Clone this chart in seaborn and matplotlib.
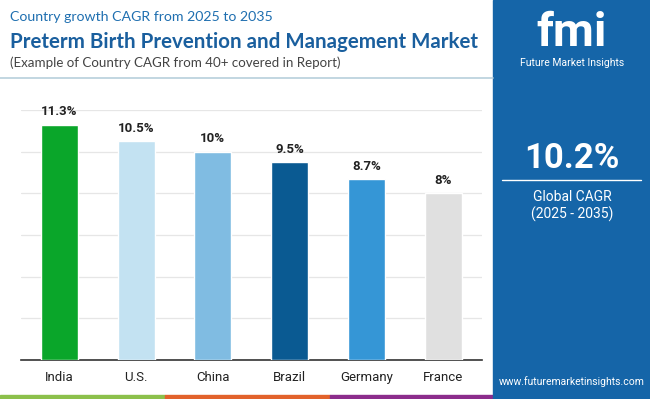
import pandas as pd
import seaborn as sns
import matplotlib.pyplot as plt
from matplotlib.patches import Rectangle

# data
countries = ["India", "U.S.", "China", "Brazil", "Germany", "France"]
cagr = [11.3, 10.5, 10.0, 9.5, 8.7, 8.0]
labels = ["11.3%", "10.5%", "10%", "9.5%", "8.7%", "8%"]
bar_colors = ["#0aa62a", "#c3e2f2", "#80bce2", "#0a5a92", "#3596d6", "#e0e0e0"]

df = pd.DataFrame({"country": countries, "cagr": cagr})

sns.set_style("white")
plt.rcParams['font.family'] = ['Roboto', 'DejaVu Sans']

fig = plt.figure(figsize=(6.5, 3.99), dpi=100)
ax = fig.add_axes([21/650, 1-360/399, (481.5-21)/650, (360-110)/399])

sns.barplot(df, x="country", y="cagr", hue="country", palette=bar_colors,
            saturation=1, width=0.48, legend=False, ax=ax, zorder=3)

for i, (v, t) in enumerate(zip(cagr, labels)):
    ax.text(i, v + 0.3, t, ha='center', va='bottom', fontsize=9.5,
            fontweight='bold', color='#222222')

ax.set_xlim(-0.5, 5.5)
ax.set_ylim(0, 12)
ax.set_yticks(range(0, 13, 2))
ax.yaxis.grid(True, color='#e6e6e6', linewidth=0.9, zorder=0)
ax.set_yticklabels([])
ax.tick_params(axis='y', length=0)
ax.tick_params(axis='x', length=0, labelsize=9.5, colors='#222222', pad=8)
ax.set_xlabel('')
ax.set_ylabel('')
for s in ['top', 'right', 'left']:
    ax.spines[s].set_visible(False)
ax.spines['bottom'].set_color('#333333')
ax.spines['bottom'].set_linewidth(1.2)

# header texts
fig.text(10/650, 1-17/399, "Country growth CAGR from 2025 to 2035", fontsize=10.2,
         color='#1f6fb0', va='center', family=['Lato', 'DejaVu Sans'])
fig.text(10/650, 1-42/399, "Preterm Birth Prevention and Management Market", fontsize=14.8,
         fontweight='bold', color='#1a5f9e', va='center', family=['Lato', 'DejaVu Sans'])
fig.text(10/650, 1-63/399, "(Example of Country CAGR from 40+ covered in Report)", fontsize=9.6,
         color='#444444', va='center', family=['Lato', 'DejaVu Sans'])
fig.add_artist(plt.Line2D([0, 493/650], [1-78/399, 1-78/399], color='#b8cfdc', linewidth=1.2))

# bottom strip
strip = [("#8cc04b", 0, 165), ("#e2622b", 165, 330), ("#8c2d8c", 330, 493)]
for c, x0, x1 in strip:
    fig.add_artist(Rectangle((x0/650, 0), (x1-x0)/650, 4/399, color=c, transform=fig.transFigure))

# right panel
fig.add_artist(Rectangle((493/650, 0), 157/650, 1, color='#1565a8', transform=fig.transFigure))
px = 572/650
fig.text(px, 1-33/399, "fmi", fontsize=34, fontweight='bold', color='white', ha='center', va='center')
fig.text(px, 1-63/399, "Future Market Insights", fontsize=7.5, color='white', ha='center', va='center')
fig.text(px, 1-158/399, "10.2%", fontsize=25, fontweight='bold', color='white', ha='center', va='center')
fig.add_artist(plt.Line2D([502/650, 641/650], [1-180/399, 1-180/399], color='white', linewidth=1))
fig.text(px, 1-197/399, "Global CAGR", fontsize=10, color='white', ha='center', va='center')
fig.text(px, 1-214/399, "(2025 - 2035)", fontsize=10, color='white', ha='center', va='center')
fig.text(px, 1-382/399, "www.futuremarketinsights.com", fontsize=7.5, color='white', ha='center', va='center')

fig.savefig("out.png", dpi=100)
